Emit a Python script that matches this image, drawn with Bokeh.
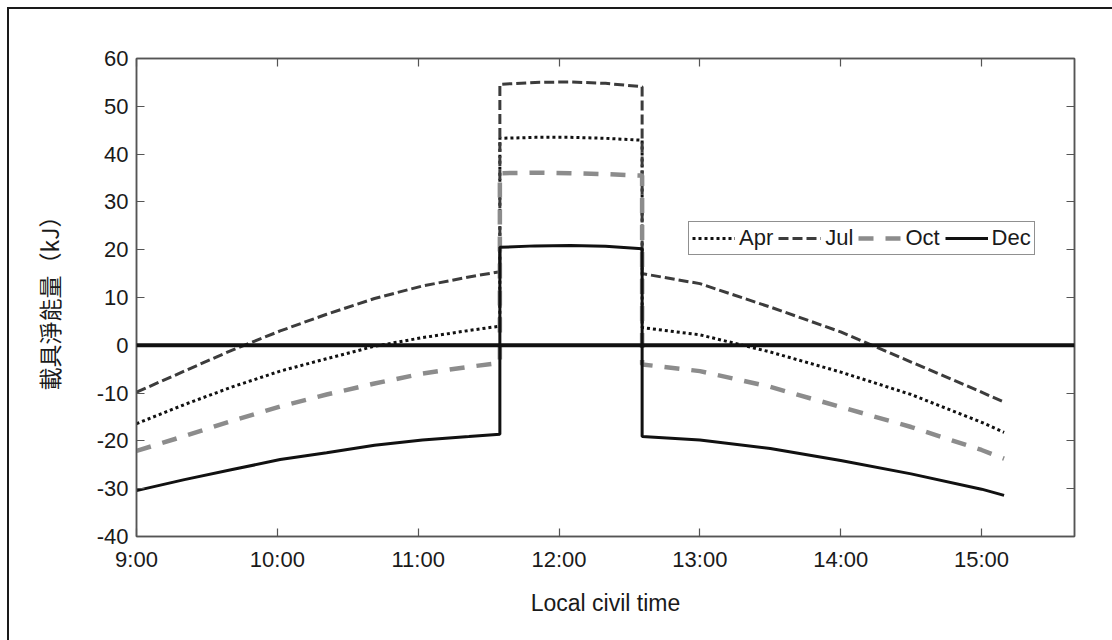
from bokeh.plotting import figure
from bokeh.models import Range1d, FixedTicker, LinearAxis, Span, Legend, LegendItem
from bokeh.embed import file_html
from bokeh.resources import INLINE

# ---- data (hours as decimal, energy in kJ) ----
t_am = [9.0, 9.34, 9.68, 10.02, 10.35, 10.69, 11.03, 11.36, 11.58]
t_mid = [11.58, 11.83, 12.08, 12.33, 12.59]
t_pm = [12.59, 13.0, 13.5, 14.0, 14.5, 15.0, 15.16]

apr_am = [-16.4, -12.4, -8.7, -5.4, -2.8, -0.2, 1.6, 3.1, 4.0]
apr_mid = [43.3, 43.5, 43.5, 43.3, 42.9]
apr_pm = [3.7, 2.2, -1.4, -5.6, -10.3, -16.1, -18.2]

jul_am = [-9.8, -5.4, -1.0, 3.0, 6.5, 9.8, 12.4, 14.3, 15.4]
jul_mid = [54.6, 55.0, 55.1, 54.8, 54.1]
jul_pm = [15.0, 12.9, 8.0, 2.8, -3.5, -9.8, -11.9]

oct_am = [-22.1, -19.0, -15.8, -12.8, -10.3, -8.0, -5.9, -4.5, -3.7]
oct_mid = [36.0, 36.1, 36.0, 35.8, 35.5]
oct_pm = [-4.0, -5.4, -8.7, -12.9, -17.1, -21.9, -23.7]

dec_am = [-30.4, -28.1, -26.0, -23.9, -22.5, -20.9, -19.8, -19.1, -18.6]
dec_mid = [20.5, 20.8, 20.9, 20.7, 20.2]
dec_pm = [-19.1, -19.8, -21.6, -24.1, -26.9, -30.1, -31.4]

x_ticks = [9, 10, 11, 12, 13, 14, 15]
x_tick_labels = ["9:00", "10:00", "11:00", "12:00", "13:00", "14:00", "15:00"]
y_ticks = [-40, -30, -20, -10, 0, 10, 20, 30, 40, 50, 60]
y_tick_labels = ["-40", "-30", "-20", "-10", "0", "10", "20", "30", "40", "50", "60"]
months = ["Apr", "Jul", "Oct", "Dec"]

FONT = "Liberation Sans"
FS = "22px"
FS_LABEL = "23px"

p = figure(width=1112, height=640, output_backend="svg", toolbar_location=None,
           x_range=Range1d(9, 15.66), y_range=Range1d(-40, 60),
           min_border_left=136, min_border_right=38, min_border_top=58,
           min_border_bottom=104)
# outer frame lines (top and left) of the figure image, drawn behind a transparent border
p.styles = {"background": "linear-gradient(#1a1a1a,#1a1a1a) 7px 7px / 2px 100% no-repeat, "
                          "linear-gradient(#1a1a1a,#1a1a1a) 7px 7px / 100% 2px no-repeat, white"}
p.background_fill_color = "white"
p.border_fill_color = None
p.outline_line_color = "#555555"
p.outline_line_width = 1.5
p.xgrid.visible = False
p.ygrid.visible = False

t_all = t_am + t_mid + t_pm
series = [
    (apr_am + apr_mid + apr_pm, dict(line_color="#111111", line_width=3, line_dash="3 3")),
    (jul_am + jul_mid + jul_pm, dict(line_color="#3c3c3c", line_width=3, line_dash="10 4")),
    (oct_am + oct_mid + oct_pm, dict(line_color="#8c8c8c", line_width=4.5, line_dash="15 12")),
    (dec_am + dec_mid + dec_pm, dict(line_color="#111111", line_width=3)),
]
renderers = []
for ys, style in series:
    r = p.line(t_all, ys, **style)
    renderers.append(r)

p.add_layout(Span(location=0, dimension="width", line_color="#111111", line_width=4))

# axes styling
for ax in (p.xaxis[0], p.yaxis[0]):
    ax.major_tick_in = 8
    ax.major_tick_out = 0
    ax.minor_tick_in = 0
    ax.minor_tick_out = 0
    ax.axis_line_color = "#555555"
    ax.axis_line_width = 1.5
    ax.major_tick_line_color = "#555555"
    ax.major_tick_line_width = 1.2
    ax.major_label_text_font = FONT
    ax.major_label_text_font_size = FS
    ax.major_label_text_color = "#1a1a1a"
    ax.axis_label_text_font_size = FS_LABEL
    ax.axis_label_text_font_style = "normal"
    ax.axis_label_text_color = "#1a1a1a"

p.xaxis[0].ticker = FixedTicker(ticks=x_ticks)
p.xaxis[0].major_label_overrides = dict(zip(x_ticks, x_tick_labels))
p.xaxis[0].major_label_standoff = 10
p.xaxis[0].axis_label = "Local civil time"
p.xaxis[0].axis_label_text_font = FONT
p.xaxis[0].axis_label_standoff = 15

p.yaxis[0].ticker = FixedTicker(ticks=y_ticks)
p.yaxis[0].major_label_overrides = dict(zip(y_ticks, y_tick_labels))
p.yaxis[0].major_label_standoff = 8
p.yaxis[0].axis_label = "載具淨能量（kJ）"
p.yaxis[0].axis_label_text_font = "Noto Sans CJK TC"
p.yaxis[0].axis_label_standoff = 28

# mirrored tick axes (box style), no labels
right = LinearAxis(ticker=FixedTicker(ticks=y_ticks))
top = LinearAxis(ticker=FixedTicker(ticks=x_ticks))
for ax in (right, top):
    ax.major_tick_in = 8
    ax.major_tick_out = 0
    ax.minor_tick_in = 0
    ax.minor_tick_out = 0
    ax.axis_line_color = "#555555"
    ax.axis_line_width = 1.5
    ax.major_tick_line_color = "#555555"
    ax.major_tick_line_width = 1.2
    ax.major_label_text_color = None
p.add_layout(right, "right")
p.add_layout(top, "above")

legend = Legend(items=[LegendItem(label=m, renderers=[r]) for m, r in zip(months, renderers)],
                orientation="horizontal", location=(552, 281))
legend.label_text_font = FONT
legend.label_text_font_size = FS
legend.label_text_color = "#1a1a1a"
legend.border_line_color = "#222222"
legend.border_line_width = 1.2
legend.background_fill_color = "white"
legend.background_fill_alpha = 1.0
legend.padding = 3
legend.spacing = 5
legend.margin = 0
legend.glyph_width = 43
legend.glyph_height = 20
legend.label_standoff = 4
p.add_layout(legend, "center")

open("out.html", "w").write(file_html(p, INLINE))
